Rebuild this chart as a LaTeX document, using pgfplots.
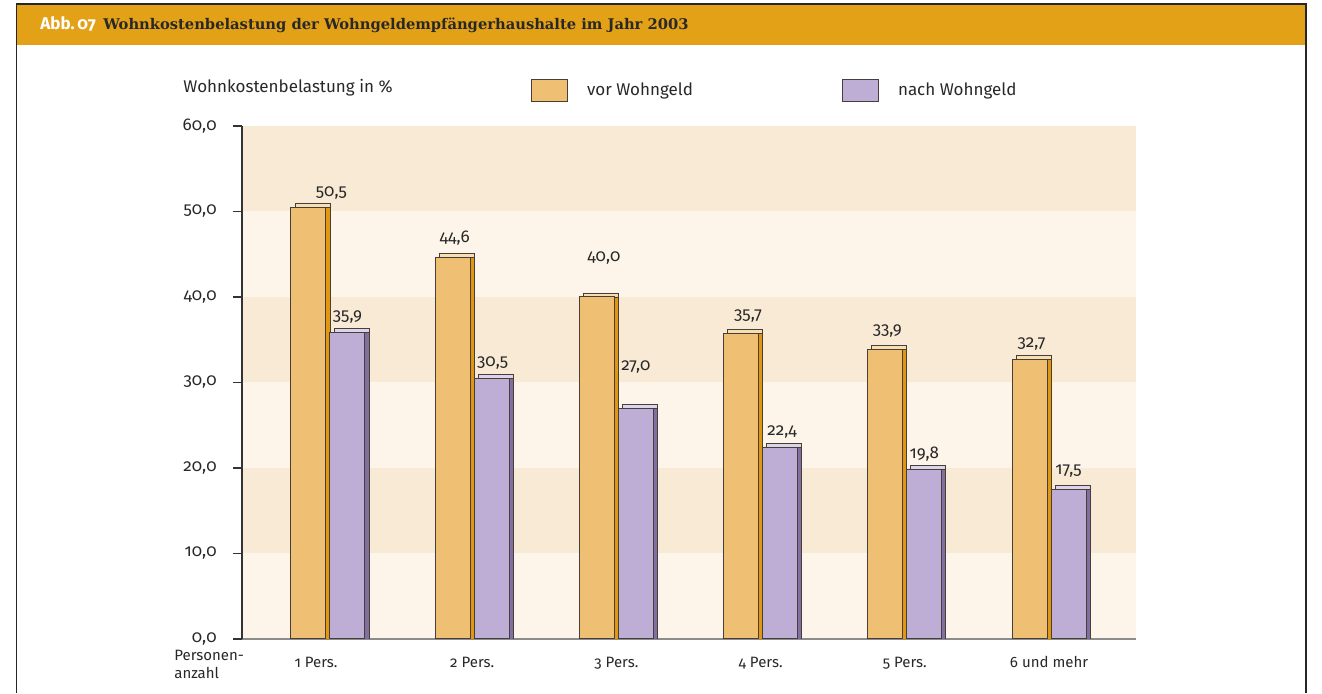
\documentclass[border=0pt]{standalone}
\usepackage{fontspec}
\setmainfont{Fira Sans}[Numbers=OldStyle]
\newfontfamily\titleserif{DejaVu Serif}
\usepackage{pgfplots}
\usepackage{pgfplotstable}
\pgfplotsset{compat=1.18}
\definecolor{titlebar}{RGB}{227,161,23}
\definecolor{orF}{RGB}{239,192,116}
\definecolor{orS}{RGB}{226,152,14}
\definecolor{orT}{RGB}{247,222,178}
\definecolor{puF}{RGB}{190,174,213}
\definecolor{puS}{RGB}{130,110,160}
\definecolor{puT}{RGB}{220,212,236}
\definecolor{bandD}{RGB}{249,234,213}
\definecolor{bandL}{RGB}{253,245,234}
\definecolor{txt}{RGB}{40,40,40}
\definecolor{barline}{RGB}{70,62,55}

% dx, dy: label offset (pt) of the value label centre from the bar top centre
\pgfplotstableread{
x v dx dy
0 50.5 11.5 7
1 44.6 1 10
2 40.0 3.5 19.5
3 35.7 3.5 9
4 33.9 1 9
5 32.7 1 7.5
}\vor
\pgfplotstableread{
x v dx dy
0 35.9 0 7.5
1 30.5 0.5 7.5
2 27.0 0 20.5
3 22.4 1 7.5
4 19.8 0 8
5 17.5 0 9
}\nach

\begin{document}
\begin{tikzpicture}
\path (0pt,0pt) rectangle (661pt,346.5pt);
\fill[titlebar] (8.25pt,324pt) rectangle (653pt,344.5pt);
\draw[black!85, line width=0.6pt] (8.25pt,0pt) -- (8.25pt,344.5pt) -- (653pt,344.5pt) -- (653pt,0pt);
\node[anchor=base west, inner sep=0pt, text=white, font=\bfseries\fontsize{8.5}{10}\selectfont] at (20pt,331.85pt) {Abb.\,07};
\node[anchor=base west, inner sep=0pt, text=txt, font=\titleserif\bfseries\fontsize{7.35}{9}\selectfont] at (51.5pt,331.85pt) {Wohnkostenbelastung der Wohngeldempfängerhaushalte im Jahr 2003};
\node[anchor=base west, inner sep=0pt, text=txt, font=\fontsize{8.5}{10}\selectfont] at (91.5pt,300.3pt) {Wohnkostenbelastung in \%};
\node[anchor=north west, inner sep=0pt, align=left, text=txt, font=\fontsize{7.5}{9}\selectfont] at (87pt,21.5pt) {Personen-\\anzahl};

\begin{axis}[
  set layers,
  at={(121pt,27pt)}, anchor=south west,
  scale only axis, width=447pt, height=256.5pt,
  xmin=-0.596, xmax=5.603, ymin=0, ymax=60,
  ybar, bar width=17.5pt,
  axis x line*=bottom, axis y line*=left,
  x axis line style={-, draw=black!45, line width=0.6pt},
  y axis line style={-, draw=black!80, line width=0.6pt},
  xtick={-0.083,1,2,3,4,5},
  xticklabels={1 Pers., 2 Pers., 3 Pers., 4 Pers., 5 Pers., 6 und mehr},
  x tick style={draw=none},
  ytick={0,10,20,30,40,50,60},
  y tick style={draw=black!80, line width=0.6pt},
  tick align=outside, major tick length=4.5pt,
  x tick label style={font=\fontsize{7.5}{9}\selectfont, text=txt, anchor=base, yshift=-10pt},
  y tick label style={font=\fontsize{8.5}{10}\selectfont, text=txt, inner sep=0pt, xshift=-8pt},
  legend columns=2,
  legend style={at={(0.3233,1.0692)}, anchor=west, draw=none, fill=none, inner sep=0pt, outer sep=0pt,
    nodes={inner sep=0pt, font=\fontsize{8.5}{10}\selectfont, text=txt},
    /tikz/every odd column/.style={column sep=9.5pt}},
  /pgf/number format/fixed,
  /pgf/number format/fixed zerofill,
  /pgf/number format/precision=1,
  /pgf/number format/use comma,
  /pgf/number format/assume math mode=true,
]
\begin{pgfonlayer}{axis background}
\fill[bandL] (axis cs:-0.596,0) rectangle (axis cs:5.603,10);
\fill[bandD] (axis cs:-0.596,10) rectangle (axis cs:5.603,20);
\fill[bandL] (axis cs:-0.596,20) rectangle (axis cs:5.603,30);
\fill[bandD] (axis cs:-0.596,30) rectangle (axis cs:5.603,40);
\fill[bandL] (axis cs:-0.596,40) rectangle (axis cs:5.603,50);
\fill[bandD] (axis cs:-0.596,50) rectangle (axis cs:5.603,60);
\end{pgfonlayer}
\draw[black!80, line width=0.6pt] (axis cs:-0.596,0) -- ++(0pt,-3pt);

% vor Wohngeld: 3D top and side, then front
\addplot[forget plot, fill=orT, draw=barline, line width=0.4pt, bar shift=-7.75pt] table[x=x, y expr=\thisrow{v}+0.47] {\vor};
\addplot[forget plot, fill=orS, draw=barline, line width=0.4pt, bar shift=-7.75pt] table[x=x, y=v] {\vor};
\addplot[fill=orF, draw=barline, line width=0.5pt, bar shift=-9.75pt,
  legend image code/.code={\draw[fill=orF, draw=barline, line width=0.5pt] (0pt,-5.5pt) rectangle (18pt,5.5pt);}
] table[x=x, y=v] {\vor};
\addlegendentry{\makebox[127.5pt][l]{vor Wohngeld}}

% nach Wohngeld
\addplot[forget plot, fill=puT, draw=barline, line width=0.4pt, bar shift=11.75pt] table[x=x, y expr=\thisrow{v}+0.47] {\nach};
\addplot[forget plot, fill=puS, draw=barline, line width=0.4pt, bar shift=11.75pt] table[x=x, y=v] {\nach};
\addplot[fill=puF, draw=barline, line width=0.5pt, bar shift=9.75pt,
  legend image code/.code={\draw[fill=puF, draw=barline, line width=0.5pt] (0pt,-5.5pt) rectangle (18pt,5.5pt);}
] table[x=x, y=v] {\nach};
\addlegendentry{\makebox[80pt][l]{nach Wohngeld}}

% value labels (invisible bars carrying the labels)
\addplot[forget plot, draw=none, fill=none, bar shift=-9.75pt, point meta=explicit,
  nodes near coords,
  every node near coord/.append style={font=\fontsize{8.5}{10}\selectfont, text=txt, anchor=center, inner sep=0pt}
] table[x expr=\thisrow{x}+\thisrow{dx}/72.1, y expr=\thisrow{v}+\thisrow{dy}/4.275, meta=v] {\vor};
\addplot[forget plot, draw=none, fill=none, bar shift=9.75pt, point meta=explicit,
  nodes near coords,
  every node near coord/.append style={font=\fontsize{8.5}{10}\selectfont, text=txt, anchor=center, inner sep=0pt}
] table[x expr=\thisrow{x}+\thisrow{dx}/72.1, y expr=\thisrow{v}+\thisrow{dy}/4.275, meta=v] {\nach};
\end{axis}
\end{tikzpicture}
\end{document}
